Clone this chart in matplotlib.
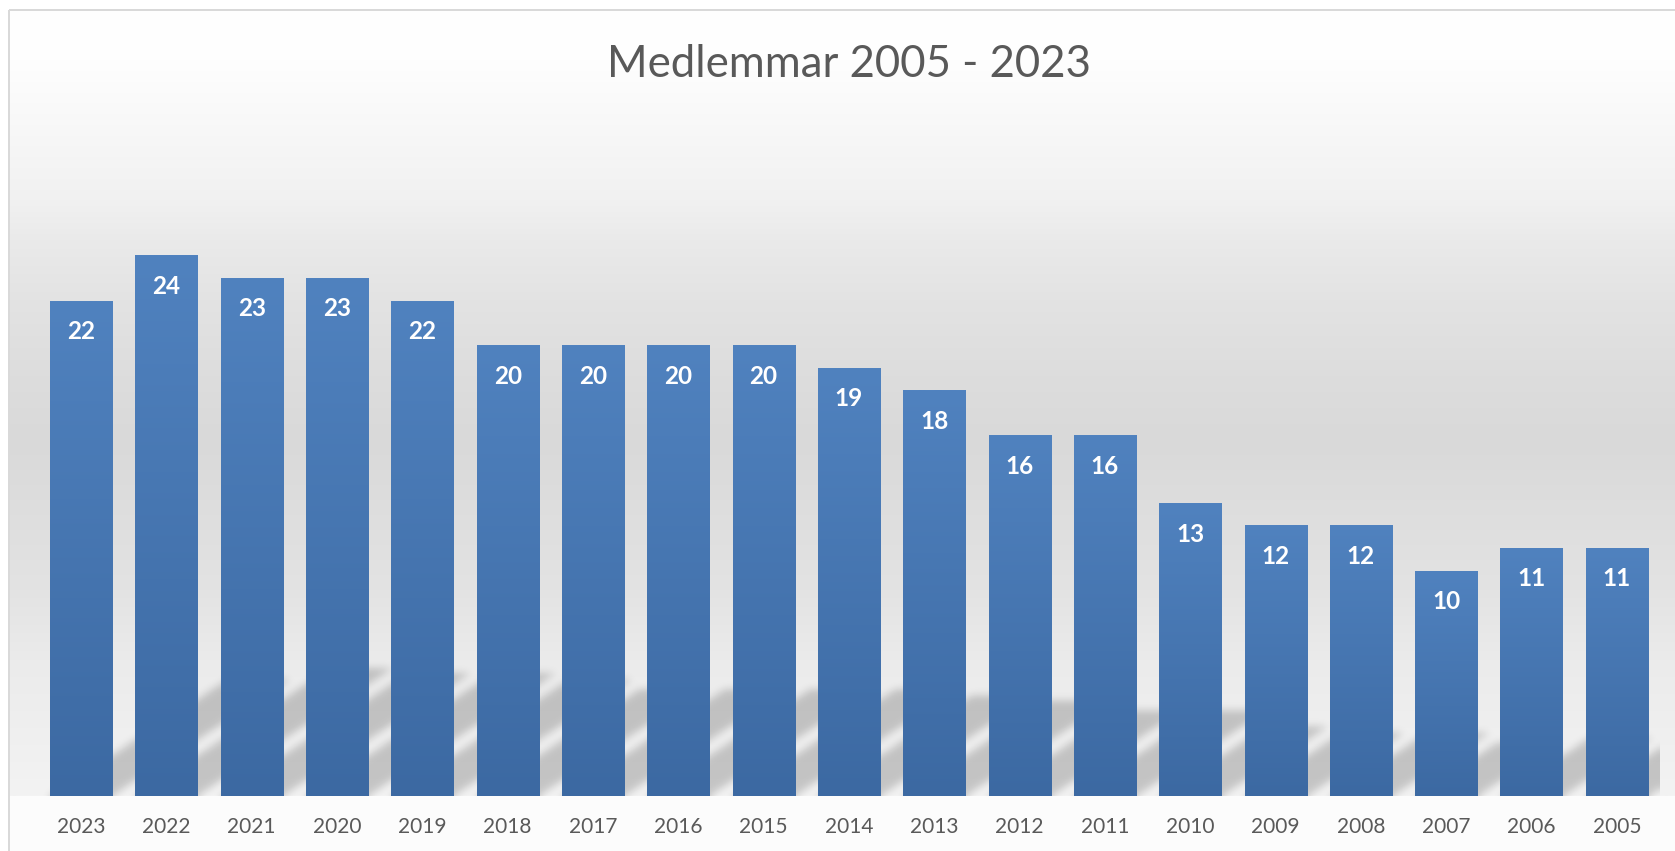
import numpy as np
import matplotlib
matplotlib.use("Agg")
import matplotlib.pyplot as plt
from matplotlib.patches import Rectangle

# ---------------- data ----------------
years = ["2023", "2022", "2021", "2020", "2019", "2018", "2017", "2016", "2015",
         "2014", "2013", "2012", "2011", "2010", "2009", "2008", "2007", "2006", "2005"]
members = [22, 24, 23, 23, 22, 20, 20, 20, 20, 19, 18, 16, 16, 13, 12, 12, 10, 11, 11]
title = "Medlemmar 2005 - 2023"

# ---------------- style ----------------
W, H, DPI = 1675, 851, 100
PX = 72.0 / DPI  # points per pixel
FONT = ["Lato", "DejaVu Sans"]
plt.rcParams["font.family"] = FONT

pitch = 85.32          # px per category
x_left = 38.4          # px, left edge of category axis
y_base = 796           # px from top, baseline of bars
px_per_unit = 22.5     # px per member

fig = plt.figure(figsize=(W / DPI, H / DPI), dpi=DPI, facecolor="white")

# ---- background (chart area gradient) ----
bg = fig.add_axes([0, 0, 1, 1], zorder=0)
bg.set_xlim(0, W)
bg.set_ylim(H, 0)
bg.axis("off")
stops_y = [10, 60, 200, 240, 300, 360, 440, 590, 660, 796]
stops_g = [255, 254, 241, 234, 227, 222, 217, 227, 235, 243]
yy = np.arange(10, y_base + 1)
g = np.interp(yy, stops_y, stops_g) / 255.0
grad = np.repeat(g[:, None], 2, axis=1)
bg.imshow(np.dstack([grad, grad, grad]), extent=[10, W, y_base, 10],
          aspect="auto", interpolation="bilinear", origin="upper")
bg.add_patch(Rectangle((10, y_base), W - 10, H - y_base, color="#fcfcfc", lw=0))
bg.plot([9, W], [9.5, 9.5], color="#d9d9d9", lw=2 * PX, solid_capstyle="butt")
bg.plot([9, 9], [9.5, H], color="#d9d9d9", lw=2 * PX, solid_capstyle="butt")
bg.set_xlim(0, W)
bg.set_ylim(H, 0)

# ---- main axes ----
n = len(members)
ax_w = n * pitch
ax_h = y_base - 10
ax = fig.add_axes([x_left / W, (H - y_base) / H, ax_w / W, ax_h / H], zorder=1)
ax.patch.set_alpha(0)
x = np.arange(n)
ymax = ax_h / px_per_unit

bars = ax.bar(x, members, width=0.727, color="none", edgecolor="none", zorder=3)

# bar gradients
top_c = np.array([80, 130, 191]) / 255.0
bot_c = np.array([60, 105, 162]) / 255.0
tt = np.linspace(0, 1, 256)[:, None]
bar_grad = (top_c[None, :] * (1 - tt) + bot_c[None, :] * tt)[:, None, :]
bar_grad = np.repeat(bar_grad, 2, axis=1)
for b in bars:
    bx, bw, bh = b.get_x(), b.get_width(), b.get_height()
    ax.imshow(bar_grad, extent=[bx, bx + bw, 0, bh], origin="upper",
              aspect="auto", interpolation="bilinear", zorder=3)

# perspective shadows (skewed to upper right, blurred)
nx = int(round(ax_w))
ny = 170
xc = -0.5 + (np.arange(nx) + 0.5) / pitch
yc = (np.arange(ny) + 0.5) / px_per_unit
X, Y = np.meshgrid(xc, yc)
k = 0.65 * pitch / px_per_unit
mask = np.zeros_like(X)
for b in bars:
    x0 = b.get_x()
    x1 = x0 + b.get_width()
    t = 0.235 * b.get_height()
    shift = Y / k
    m = (Y <= t) & (X >= x0 + shift) & (X <= x1 + shift)
    mask = np.maximum(mask, m.astype(float))

def gblur(a, sigma):
    r = int(3 * sigma)
    kk = np.exp(-0.5 * (np.arange(-r, r + 1) / sigma) ** 2)
    kk /= kk.sum()
    p = np.pad(a, ((r, r), (r, r)), mode="edge")
    p = np.apply_along_axis(lambda v: np.convolve(v, kk, mode="same"), 1, p)
    p = np.apply_along_axis(lambda v: np.convolve(v, kk, mode="same"), 0, p)
    return p[r:-r, r:-r]

blur = gblur(mask, 4.0)
shadow = np.zeros((ny, nx, 4))
shadow[..., 3] = 0.19 * blur
ax.imshow(shadow, extent=[-0.5, n - 0.5, 0, ny / px_per_unit], origin="lower",
          aspect="auto", interpolation="bilinear", zorder=2)

ax.set_xlim(-0.5, n - 0.5)
ax.set_ylim(0, ymax)

# data labels
for xi, v in zip(x, members):
    ax.annotate(str(v), (xi, v), xytext=(0, -38 * PX), textcoords="offset points",
                ha="center", va="baseline", color="white", fontweight="bold",
                fontsize=17.5, zorder=5)

# axes styling
for s in ax.spines.values():
    s.set_visible(False)
ax.set_yticks([])
ax.set_xticks(x)
ax.set_xticklabels(years)
ax.tick_params(axis="x", length=0, pad=37 * PX, labelsize=15, labelcolor="#595959")
for lab in ax.get_xticklabels():
    lab.set_va("baseline")

# title
fig.text(849 / W, 1 - 77 / H, title, ha="center", va="baseline",
         fontsize=31.5, color="#595959")

fig.savefig("out.png", dpi=DPI, facecolor="white")
